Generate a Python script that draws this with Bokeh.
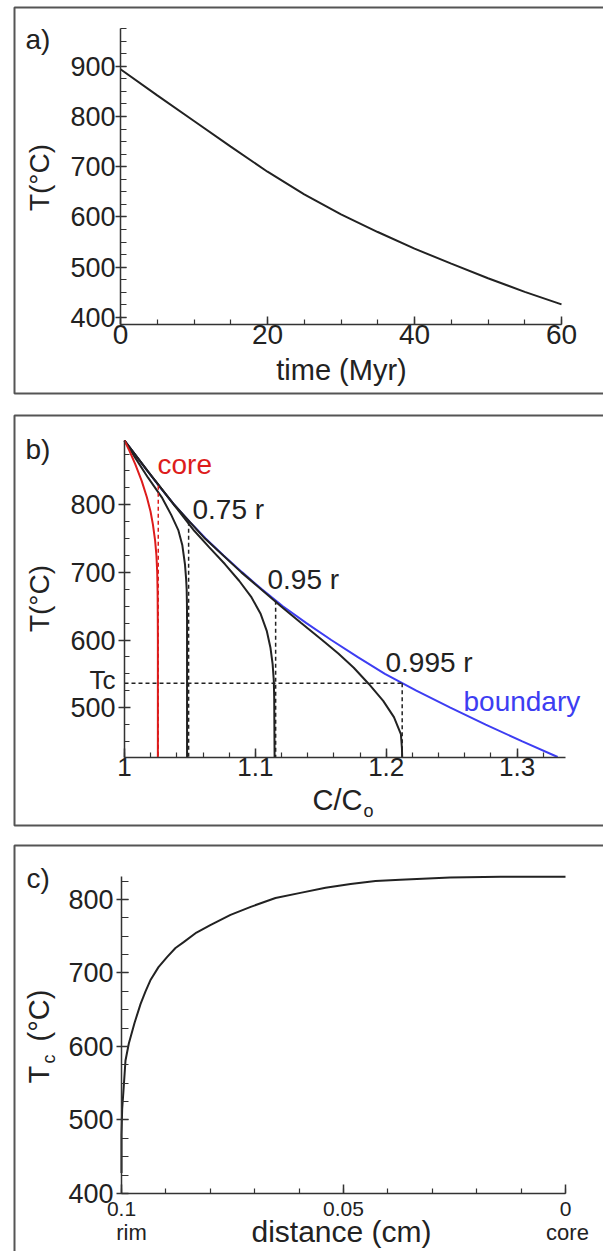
import math
from bokeh.plotting import figure
from bokeh.layouts import column
from bokeh.models import (Range1d, BoxAnnotation, Label, SingleIntervalTicker,
                          CustomJSTickFormatter, LinearAxis)
from bokeh.embed import file_html
from bokeh.resources import INLINE

FONT = "Liberation Sans"
INK = "#222222"
AXIS = "#333333"
RED = "#dd1c1c"
BLUE = "#3d3df2"
BOX = "#555555"

# ---------------- data ----------------
# a) cooling history
time_myr = [0, 5, 10, 15, 20, 25, 30, 35, 40, 45, 50, 55, 60]
temp_a = [894, 842, 791, 740, 690, 645, 605, 570, 537, 507, 478, 451, 426]

# b) composition at several radial positions vs temperature
boundary_T = [895, 870, 850, 825, 800, 775, 750, 725, 700, 675, 650, 625, 600,
              575, 550, 525, 500, 475, 450, 427]
boundary_C = [1.0, 1.0097, 1.0175, 1.0275, 1.038, 1.0497, 1.062, 1.0757, 1.090,
              1.105, 1.121, 1.139, 1.158, 1.178, 1.199, 1.223, 1.249, 1.276,
              1.304, 1.331]
core_T = [895, 880, 860, 835, 811, 790, 771, 747, 725, 700, 670, 640, 600, 427]
core_C = [1.0, 1.0037, 1.0082, 1.0132, 1.0171, 1.0199, 1.0217, 1.0234, 1.0244,
          1.0250, 1.0253, 1.0254, 1.0255, 1.0255]
r075_T = [895, 870, 840, 811, 785, 762, 740, 712, 690, 675, 655, 630, 600, 427]
r075_C = [1.0, 1.008, 1.018, 1.0285, 1.0357, 1.0412, 1.0442, 1.0462, 1.0471,
          1.0475, 1.0477, 1.0478, 1.0478, 1.0478]
r095_T = [895, 835.5, 798.5, 761.5, 737, 712.3, 687.6, 662.9, 638.3, 613.6, 589,
          564.3, 539.7, 515, 427]
r095_C = [1.0, 1.0235, 1.0384, 1.0533, 1.0648, 1.0767, 1.0876, 1.0971, 1.1041,
          1.1087, 1.1115, 1.1132, 1.1141, 1.1144, 1.1147]
r0995_T = [895, 850, 800, 750, 700, 650, 625, 600, 580, 559, 535, 510, 486, 461,
           440, 427]
r0995_C = [1.0, 1.0175, 1.038, 1.0615, 1.0893, 1.1195, 1.135, 1.151, 1.1634,
           1.1752, 1.1867, 1.1977, 1.2059, 1.2112, 1.212, 1.2122]
closure_C = [1.0258, 1.049, 1.1155, 1.2122]
closure_T = [828, 775, 658, 536]
Tc_value = 536
curve_labels = ["core", "0.75 r", "0.95 r", "0.995 r"]

# c) closure temperature profile
dist_cm = [0.1, 0.1, 0.09985, 0.0996, 0.0991, 0.09835, 0.09707, 0.0957, 0.09459,
           0.0935, 0.09167, 0.0897, 0.08784, 0.086, 0.08311, 0.080, 0.07545,
           0.0709, 0.06532, 0.0597, 0.05405, 0.0484, 0.04279, 0.0372, 0.026,
           0.0146, 0.0]
Tc_profile = [428, 480, 515, 536, 581, 604, 632, 658, 675, 690, 708, 722, 734,
              742, 755, 765, 779, 790, 802, 809, 816, 821, 825, 827, 830, 831, 831]

W = 603
BASE_SHIFT = 0.375  # Bokeh label baseline correction (fraction of font size)


class Geo:
    """Maps page pixels to data for one figure whose frame fills the canvas."""
    def __init__(self, off, h, pl, pr, pt, pb, xr, yr, ybound_top=None):
        self.off, self.h = off, h
        self.pl, self.pr, self.pt, self.pb = pl, pr, pt, pb
        self.xr, self.yr = xr, yr
        self.ytop = yr[1] if ybound_top is None else ybound_top

    def x(self, px):
        return self.xr[0] + (px - self.pl) / (self.pr - self.pl) * (self.xr[1] - self.xr[0])

    def y(self, py_page):
        py = py_page - self.off
        return self.yr[0] + (self.pb - py) / (self.pb - self.pt) * (self.yr[1] - self.yr[0])


gA = Geo(0, 404, 120, 561, 28, 324, (0, 60), (386, 975))
gB = Geo(404, 430, 124, 565, 36, 352.5, (1.0, 1.337), (427, 895))
gC = Geo(834, 417, 121, 565, 40, 359, (0.1, 0.0), (400, 834), ybound_top=831)


def style_axis(ax, size, tin, tout, minor_in, standoff):
    ax.axis_line_color = AXIS
    ax.axis_line_width = 1.5
    ax.major_tick_line_color = AXIS
    ax.major_tick_line_width = 1.5
    ax.minor_tick_line_color = AXIS
    ax.minor_tick_line_width = 1.2
    ax.major_tick_in = tin
    ax.major_tick_out = tout
    ax.minor_tick_in = minor_in
    ax.minor_tick_out = 0
    ax.major_label_text_font = FONT
    ax.major_label_text_font_size = f"{size}px"
    ax.major_label_text_color = INK
    ax.major_label_standoff = standoff


def make_fig(g, xtick, ytick, xsize, xstyle, ysize, ystyle, xfmt=None):
    p = figure(width=W, height=g.h, title=None, output_backend="svg",
               toolbar_location=None,
               x_range=Range1d(g.x(0), g.x(W)),
               y_range=Range1d(g.y(g.off + g.h), g.y(g.off)),
               x_axis_location=None, y_axis_location=None, min_border=0)
    p.min_border_left = p.min_border_right = 0
    p.min_border_top = p.min_border_bottom = 0
    p.outline_line_color = None
    p.background_fill_color = "white"
    p.border_fill_color = "white"
    p.grid.visible = False
    xa = LinearAxis(fixed_location=g.yr[0], bounds=(min(g.xr), max(g.xr)),
                    ticker=xtick)
    if xfmt is not None:
        xa.formatter = xfmt
    ya = LinearAxis(fixed_location=g.xr[0], bounds=(g.yr[0], g.ytop), ticker=ytick)
    style_axis(xa, xsize, *xstyle)
    style_axis(ya, ysize, *ystyle)
    p.add_layout(xa, "below")
    p.add_layout(ya, "left")
    return p


def lab(p, g, px, py, text, size, color=INK, align="left", rotated=False):
    if rotated:
        px = px - BASE_SHIFT * size
        angle = math.pi / 2
    else:
        py = py - BASE_SHIFT * size
        angle = 0.0
    p.add_layout(Label(x=g.x(px), y=g.y(py), text=text, text_font=FONT,
                       text_font_size=f"{size}px", text_color=color,
                       text_align=align, text_baseline="alphabetic", angle=angle))


def panel_box(p, g, top_page, bottom_page):
    p.add_layout(BoxAnnotation(left=g.x(14), right=g.x(W + 40), top=g.y(top_page),
                               bottom=g.y(bottom_page), fill_alpha=0,
                               line_color=BOX, line_alpha=1.0, line_width=2))


def num_fmt():
    return CustomJSTickFormatter(code="return String(Number(tick.toFixed(3)));")


# ---------------- panel a ----------------
pA = make_fig(gA, SingleIntervalTicker(interval=20, num_minor_ticks=4),
              SingleIntervalTicker(interval=100, num_minor_ticks=4),
              28, (8, 0, 5, 0), 27, (6, 5, 6, 0))
pA.line(time_myr, temp_a, line_color=INK, line_width=2)
panel_box(pA, gA, 7, 393)
lab(pA, gA, 25, 49, "a)", 28)
lab(pA, gA, 49, 177, "T(°C)", 28, align="center", rotated=True)
lab(pA, gA, 341, 380, "time (Myr)", 29, align="center")

# ---------------- panel b ----------------
pB = make_fig(gB, SingleIntervalTicker(interval=0.1, num_minor_ticks=5),
              SingleIntervalTicker(interval=100, num_minor_ticks=4),
              26, (9, 0, 5, 1), 27, (6, 6, 5, 3), xfmt=num_fmt())
pB.line(boundary_C, boundary_T, line_color=BLUE, line_width=2)
pB.line(r0995_C, r0995_T, line_color=INK, line_width=2)
pB.line(r095_C, r095_T, line_color=INK, line_width=2)
pB.line(r075_C, r075_T, line_color=INK, line_width=2)
pB.line(core_C, core_T, line_color=RED, line_width=2)
ybot = gB.yr[0]
pB.segment(x0=closure_C[1:], y0=closure_T[1:], x1=closure_C[1:], y1=[ybot] * 3,
           line_color=INK, line_width=1.5, line_dash="4 3")
pB.segment(x0=[closure_C[0]], y0=[closure_T[0]], x1=[closure_C[0]], y1=[ybot],
           line_color=RED, line_width=1.5, line_dash="4 3")
pB.segment(x0=[gB.xr[0]], y0=[Tc_value], x1=[closure_C[-1]], y1=[Tc_value],
           line_color=INK, line_width=1.5, line_dash="4 3")
panel_box(pB, gB, 415, 825)
lab(pB, gB, 25, 459, "b)", 28)
lab(pB, gB, 49, 598, "T(°C)", 28, align="center", rotated=True)
lab(pB, gB, 312, 810, "C/C", 29)
lab(pB, gB, 363, 817, "o", 18)
lab(pB, gB, 157, 474, curve_labels[0], 28, color=RED)
lab(pB, gB, 192, 519, curve_labels[1], 28)
lab(pB, gB, 267, 589, curve_labels[2], 28)
lab(pB, gB, 385, 672, curve_labels[3], 28)
lab(pB, gB, 463, 711, "boundary", 28, color=BLUE)
lab(pB, gB, 115, 689, "Tc", 26, align="right")

# ---------------- panel c ----------------
pC = make_fig(gC, SingleIntervalTicker(interval=0.05, num_minor_ticks=5),
              SingleIntervalTicker(interval=100, num_minor_ticks=4),
              21, (9, 0, 5, 8), 27, (7, 5, 7, 3), xfmt=num_fmt())
pC.line(dist_cm, Tc_profile, line_color=INK, line_width=2)
panel_box(pC, gC, 845, 1300)
lab(pC, gC, 26, 888, "c)", 28)
lab(pC, gC, 49, 1083, "T", 29, rotated=True)
lab(pC, gC, 55, 1063, "c", 18, rotated=True)
lab(pC, gC, 49, 1041, "(°C)", 29, rotated=True)
lab(pC, gC, 341, 1242, "distance (cm)", 30, align="center")
lab(pC, gC, 131, 1240, "rim", 22, align="center")
lab(pC, gC, 567, 1240, "core", 22, align="center")

layout = column(pA, pB, pC, spacing=0)
open("out.html", "w").write(file_html(layout, INLINE))
